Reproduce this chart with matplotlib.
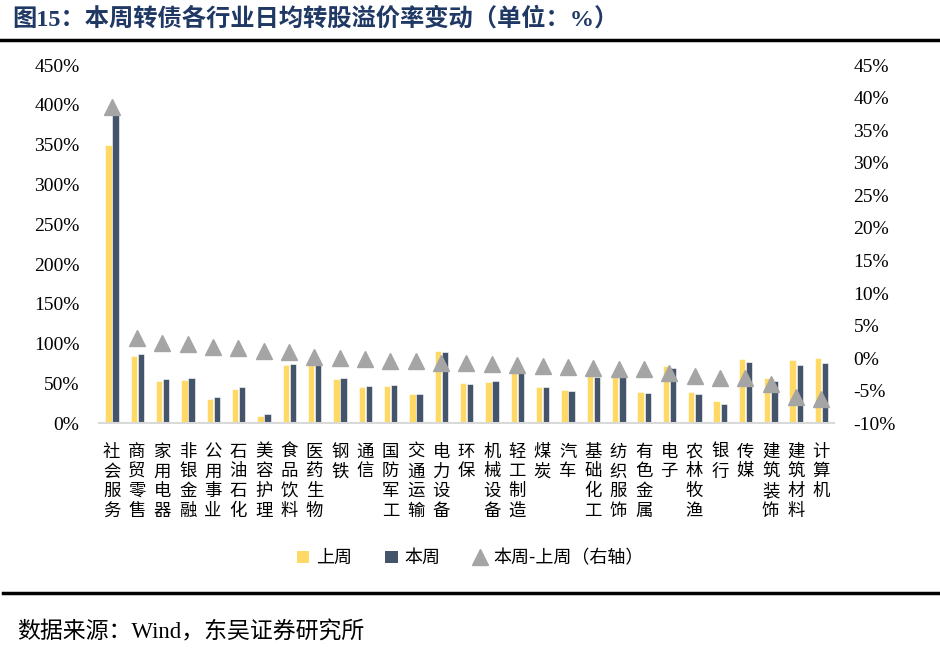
import matplotlib
matplotlib.use("Agg")
import matplotlib.pyplot as plt
import numpy as np
from matplotlib.patches import Patch
from matplotlib.lines import Line2D

plt.rcParams['font.family'] = ['Noto Sans CJK SC', 'DejaVu Sans']

categories = ["社会服务", "商贸零售", "家用电器", "非银金融", "公用事业", "石油石化", "美容护理",
              "食品饮料", "医药生物", "钢铁", "通信", "国防军工", "交通运输", "电力设备", "环保",
              "机械设备", "轻工制造", "煤炭", "汽车", "基础化工", "纺织服饰", "有色金属", "电子",
              "农林牧渔", "银行", "传媒", "建筑装饰", "建筑材料", "计算机"]
last_week = [350, 84.2, 53.3, 54.0, 30.5, 43.1, 9.2, 73.2, 74.1, 55.7, 46.1, 47.3, 36.8, 90.8,
             50.6, 52.4, 63.6, 45.2, 41.4, 59.0, 60.0, 39.0, 72.3, 39.3, 27.6, 80.4, 56.5, 79.1, 81.7]
this_week = [389, 87.5, 55.7, 56.5, 33.0, 45.2, 11.3, 74.1, 75.0, 56.5, 46.5, 47.7, 36.4, 90.0,
             50.0, 52.6, 63.0, 45.0, 40.2, 57.8, 59.0, 37.7, 69.8, 36.4, 24.3, 77.5, 53.6, 73.2, 76.3]
change = [38.6, 3.1, 2.4, 2.1, 1.7, 1.6, 1.1, 1.0, 0.14, 0.08, -0.12, -0.48, -0.38, -0.78, -0.8,
          -0.84, -0.99, -1.15, -1.31, -1.5, -1.6, -1.66, -2.23, -2.69, -3.0, -3.04, -3.96, -5.96, -6.31]
left_ticks = [0, 50, 100, 150, 200, 250, 300, 350, 400, 450]
right_ticks = [-10, -5, 0, 5, 10, 15, 20, 25, 30, 35, 40, 45]

c_last = "#FFD966"
c_this = "#44546A"
c_diff = "#A5A5A5"
title_color = "#1F3864"
serif = "Liberation Serif"
mixed = ["Liberation Serif", "Noto Sans CJK SC", "DejaVu Sans"]

fig = plt.figure(figsize=(9.4, 6.56), dpi=100)
ax = fig.add_axes([0.1053, 0.3547, 0.7819, 0.5462])
ax2 = ax.twinx()

x = np.arange(len(categories))
w = 0.25
ax.bar(x - 0.13, last_week, width=w, color=c_last, edgecolor="white", linewidth=0.4, zorder=2)
ax.bar(x + 0.15, this_week, width=w, color=c_this, edgecolor="white", linewidth=0.4, zorder=2)
ax2.plot(x, change, linestyle="none", marker="^", markersize=11, color=c_diff, zorder=3)

ax.set_xlim(-0.5, len(categories) - 0.5)
ax.set_ylim(0, 450)
ax2.set_ylim(-10, 45)

ax.set_yticks(left_ticks)
ax.set_yticklabels([f"{v}%" for v in left_ticks], fontfamily=serif, fontsize=14)
ax2.set_yticks(right_ticks)
ax2.set_yticklabels([f"{v}%" for v in right_ticks], fontfamily=serif, fontsize=14)

ax.set_xticks(x)
ax.set_xticklabels(["\n".join(c) for c in categories], fontsize=12.5, linespacing=1.12,
                   va="top")
ax.tick_params(axis="x", length=0, pad=14)
ax.tick_params(axis="y", length=0, pad=14)
ax2.tick_params(axis="y", length=0, pad=14)

for a in (ax, ax2):
    for s in ("top", "left", "right", "bottom"):
        a.spines[s].set_visible(False)
ax.spines["bottom"].set_visible(True)
ax.spines["bottom"].set_color("#D9D9D9")
ax.spines["bottom"].set_linewidth(1.5)

ax.set_zorder(ax2.get_zorder() - 1)
ax.patch.set_visible(False)

handles = [Patch(facecolor=c_last, edgecolor="none"),
           Patch(facecolor=c_this, edgecolor="none"),
           Line2D([], [], linestyle="none", marker="^", markersize=11, color=c_diff)]
labels = ["上周", "本周", "本周-上周（右轴）"]
fig.legend(handles, labels, loc="center", bbox_to_anchor=(0.5, 0.149), ncol=3, frameon=False,
           fontsize=13, handlelength=0.7, handleheight=0.7, handletextpad=0.4, columnspacing=1.8)

fig.text(0.013, 0.972, "图15：本周转债各行业日均转股溢价率变动（单位：%）", fontsize=17.5,
         fontweight="bold", color=title_color, va="center", ha="left", family=mixed)
fig.add_artist(Line2D([0.0, 1.0], [1 - 40 / 656, 1 - 40 / 656], color="black", linewidth=2.5,
                      transform=fig.transFigure))
fig.add_artist(Line2D([0.003, 1.0], [1 - 593 / 656, 1 - 593 / 656], color="black", linewidth=2.5,
                      transform=fig.transFigure))
fig.text(0.018, 1 - 632 / 656, "数据来源：Wind，东吴证券研究所", fontsize=16.5, va="center",
         ha="left", family=mixed)

fig.savefig("out.png", dpi=100)
